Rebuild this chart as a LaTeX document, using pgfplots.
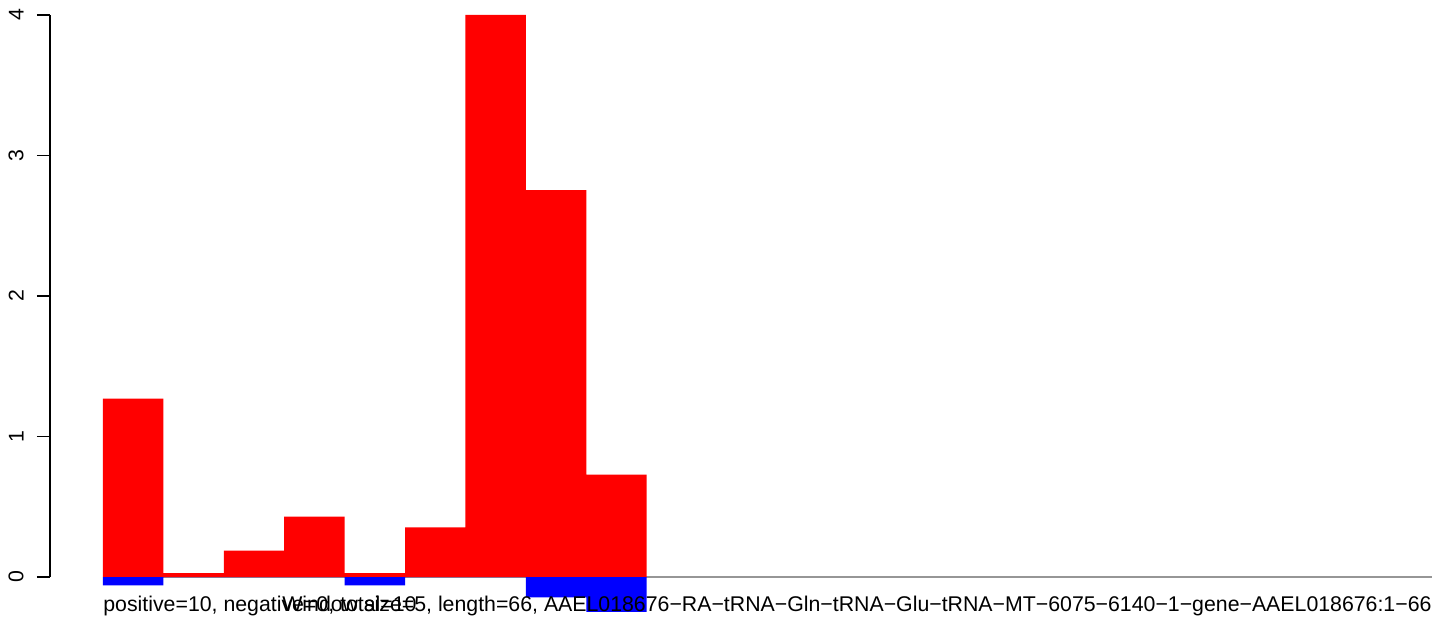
\documentclass[border=0pt]{standalone}
\usepackage{fontspec}
\setmainfont{Liberation Sans}
\usepackage{pgfplots}
\usepackage{pgfplotstable}
\pgfplotsset{compat=1.18}
\pgfplotstableread{
x pos neg
0.5 1.269 -0.059
1.5 0.028 0
2.5 0.187 0
3.5 0.429 0
4.5 0.028 -0.059
5.5 0.354 0
6.5 4.000 0
7.5 2.754 -0.145
8.5 0.728 -0.249
}\bars
\begin{document}
\begin{tikzpicture}
\useasboundingbox (-25pt,-22pt) rectangle (697pt,288.5pt);
\begin{axis}[
  scale only axis,
  width=691pt, height=281pt,
  xmin=-0.877, xmax=22,
  ymin=0, ymax=4,
  clip=false,
  axis x line=none,
  axis y line*=left,
  y axis line style={line width=0.75pt, black, -},
  ytick={0,1,2,3,4},
  tick align=outside,
  major tick length=6.5pt,
  every tick/.style={black, line width=0.75pt},
  /pgf/number format/assume math mode=true,
  yticklabel shift=6.5pt,
  yticklabel style={rotate=90, anchor=south, font=\fontsize{10.65}{12}\selectfont, inner sep=0pt},
]
\addplot[draw={rgb,255:red,150;green,150;blue,150}, line width=0.75pt, forget plot] coordinates {(0,0) (22,0)};
\addplot[ybar, bar width=1, bar shift=0, fill={rgb,255:red,255;green,0;blue,0}, draw=none] table[x=x, y=pos] {\bars};
\addplot[ybar, bar width=1, bar shift=0, fill={rgb,255:red,0;green,0;blue,255}, draw=none] table[x=x, y=neg] {\bars};
\node[anchor=base west, inner sep=0pt, font=\fontsize{10.65}{12}\selectfont] at (axis cs:0,-0.249) {positive=10, negative=0, total=10};
\node[anchor=base east, inner sep=0pt, font=\fontsize{10.65}{12}\selectfont] at (axis cs:22,-0.249) {Window size=5, length=66, AAEL018676−RA−tRNA−Gln−tRNA−Glu−tRNA−MT−6075−6140−1−gene−AAEL018676:1−66};
\end{axis}
\end{tikzpicture}
\end{document}
